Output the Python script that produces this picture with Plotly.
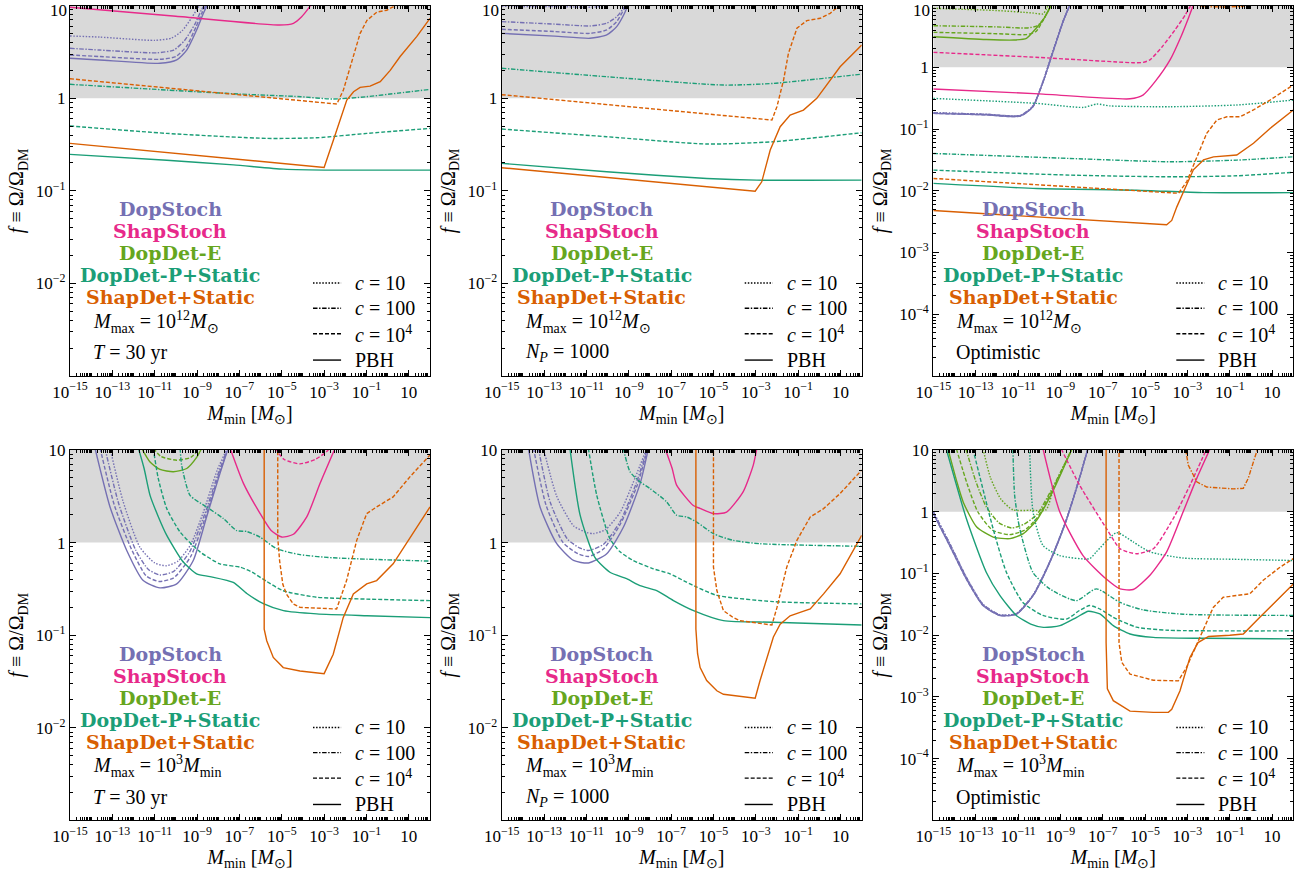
import plotly.graph_objects as go

# ------------------------------------------------------------------
# Curve data: pairs of (log10 M_min [M_sun], log10 f)
# ------------------------------------------------------------------
# Panel 1: M_max = 1e12 M_sun, T = 30 yr
P1_DOPSTOCH_PBH = [(-15, 0.431), (-13.6, 0.413), (-10.75, 0.377), (-9.96, 0.413), (-9.49, 0.52), (-9.02, 0.737), (-8.7, 0.917), (-8.46, 1.03)]
P1_DOPSTOCH_C1E4 = [(-15, 0.467), (-13.6, 0.45), (-10.75, 0.42), (-10.0, 0.45), (-9.5, 0.56), (-9.05, 0.77), (-8.75, 0.93), (-8.5, 1.03)]
P1_DOPSTOCH_C100 = [(-15, 0.539), (-13.6, 0.52), (-10.9, 0.49), (-10.1, 0.52), (-9.6, 0.62), (-9.1, 0.8), (-8.8, 0.95), (-8.55, 1.04)]
P1_DOPSTOCH_C10 = [(-15, 0.672), (-13.6, 0.66), (-11.0, 0.625), (-10.2, 0.65), (-9.7, 0.73), (-9.25, 0.87), (-8.9, 1.0), (-8.75, 1.05)]
P1_SHAPSTOCH_PBH = [(-15, 0.982), (-10, 0.885), (-5.1, 0.79), (-4.45, 0.809), (-4.06, 0.88), (-3.74, 0.97), (-3.5, 1.05)]
P1_DOPDETP_C100 = [(-15, 0.15), (-10.4, 0.088), (-7, 0.045), (-4.1, 0.016), (-2.6, -0.009), (-1, 0.016), (0.5, 0.055), (2, 0.095)]
P1_DOPDETP_C1E4 = [(-15, -0.30), (-10.43, -0.38), (-5.7, -0.434), (-3.35, -0.427), (-0.98, -0.38), (2, -0.326)]
P1_DOPDETP_PBH = [(-15, -0.607), (-10.43, -0.67), (-7.28, -0.72), (-4.92, -0.766), (-2.56, -0.777), (2, -0.777)]
P1_SHAPDET_C1E4 = [(-15, 0.21), (-2.4, -0.063), (-2.09, 0.088), (-1.77, 0.34), (-1.3, 0.70), (-0.98, 0.84), (-0.51, 0.93), (-0.04, 0.95), (0.28, 0.99), (0.51, 1.05)]
P1_SHAPDET_PBH = [(-15, -0.488), (-3.0, -0.748), (-2.56, -0.452), (-2.24, -0.236), (-1.93, -0.02), (-1.61, 0.07), (-1.3, 0.117), (-0.83, 0.13), (-0.35, 0.178), (0.12, 0.30), (0.59, 0.45), (1.38, 0.667), (2.0, 0.863)]

# Panel 2: M_max = 1e12 M_sun, N_P = 1000
P2_DOPSTOCH_C10 = [(-15, 0.992), (-12, 0.988), (-10.8, 0.983), (-10.2, 0.995), (-9.9, 1.03)]
P2_DOPSTOCH_C100 = [(-15, 0.827), (-12.5, 0.80), (-10.83, 0.78), (-10.04, 0.81), (-9.57, 0.88), (-9.25, 0.97), (-9.1, 1.03)]
P2_DOPSTOCH_C1E4 = [(-15, 0.744), (-12.5, 0.72), (-10.83, 0.70), (-10.04, 0.737), (-9.57, 0.827), (-9.2, 0.97), (-9.05, 1.03)]
P2_DOPSTOCH_PBH = [(-15, 0.70), (-12.5, 0.67), (-10.83, 0.647), (-10.04, 0.683), (-9.57, 0.773), (-9.2, 0.917), (-9.0, 1.03)]
P2_DOPDETP_C100 = [(-15, 0.323), (-10.04, 0.232), (-4.53, 0.142), (-2.17, 0.16), (2, 0.26)]
P2_DOPDETP_C1E4 = [(-15, -0.333), (-10.04, -0.416), (-5.31, -0.495), (-2.17, -0.47), (2, -0.373)]
P2_DOPDETP_PBH = [(-15, -0.704), (-10.04, -0.795), (-5.31, -0.867), (-2.95, -0.885), (2, -0.885)]
P2_SHAPDET_C1E4 = [(-15, 0.038), (-2.24, -0.236), (-2.0, -0.09), (-1.69, 0.196), (-1.46, 0.485), (-1.06, 0.755), (-0.59, 0.838), (0.04, 0.863), (0.51, 0.917), (0.98, 1.007), (1.1, 1.05)]
P2_SHAPDET_PBH = [(-15, -0.751), (-3.03, -1.004), (-2.72, -0.903), (-2.32, -0.56), (-1.85, -0.308), (-1.38, -0.182), (-0.75, -0.128), (-0.12, -0.002), (0.98, 0.34), (2.0, 0.575)]

# Panel 3: M_max = 1e12 M_sun, optimistic
P3_DOPDETE_C10 = [(-15, 0.956), (-12, 0.92), (-10.3, 0.88), (-9.82, 0.865), (-9.65, 0.95), (-9.55, 1.03)]
P3_DOPDETE_C100 = [(-15, 0.674), (-12, 0.655), (-10.6, 0.637), (-10.1, 0.67), (-9.8, 0.78), (-9.6, 0.9), (-9.45, 1.02)]
P3_DOPDETE_C1E4 = [(-15, 0.567), (-12, 0.545), (-10.6, 0.53), (-10.15, 0.58), (-9.85, 0.74), (-9.6, 0.9), (-9.45, 1.02)]
P3_DOPDETE_PBH = [(-15, 0.496), (-12.5, 0.45), (-11.2, 0.442), (-10.6, 0.47), (-10.29, 0.577), (-9.82, 0.767), (-9.43, 1.0), (-9.35, 1.05)]
P3_DOPSTOCH_PBH = [(-15, -0.746), (-12.5, -0.77), (-10.9, -0.79), (-10.3, -0.64), (-9.8, -0.22), (-9.33, 0.27), (-8.86, 0.75), (-8.5, 1.05)]
P3_DOPSTOCH_C10 = [(-15, -0.735), (-12.5, -0.76), (-10.9, -0.78), (-10.3, -0.63), (-9.8, -0.21), (-9.33, 0.28), (-8.86, 0.76), (-8.5, 1.05)]
P3_SHAPSTOCH_C1E4 = [(-15, 0.243), (-10, 0.16), (-5.57, 0.075), (-5.1, 0.08), (-4.77, 0.12), (-4.2, 0.33), (-3.6, 0.6), (-3.1, 0.85), (-2.8, 1.03)]
P3_SHAPSTOCH_PBH = [(-15, -0.35), (-10, -0.43), (-5.71, -0.51), (-5.1, -0.45), (-4.5, -0.22), (-3.82, 0.12), (-3.3, 0.5), (-2.95, 0.8), (-2.7, 1.03)]
P3_DOPDETP_C10 = [(-15, -0.503), (-10.12, -0.584), (-7.91, -0.649), (-7.28, -0.595), (-6.65, -0.625), (-3.82, -0.638), (-0.67, -0.61), (2.0, -0.53)]
P3_DOPDETP_C100 = [(-15, -1.395), (-8.54, -1.476), (-3.82, -1.53), (-0.67, -1.503), (2.0, -1.449)]
P3_DOPDETP_C1E4 = [(-15, -1.665), (-8.54, -1.746), (-3.82, -1.773), (-0.67, -1.757), (2.0, -1.70)]
P3_DOPDETP_PBH = [(-15, -1.88), (-10.12, -1.962), (-5.4, -1.99), (-2.24, -2.03), (2.0, -2.03)]
P3_SHAPDET_C100 = [(-2.6, 1.03), (-2.3, 0.985), (-1.3, 0.978), (-0.4, 0.985), (-0.15, 1.03)]
P3_SHAPDET_C1E4 = [(-15, -1.8), (-3.42, -2.04), (-3.03, -1.85), (-2.56, -1.45), (-2.09, -1.07), (-1.61, -0.854), (-1.14, -0.8), (-0.51, -0.8), (0.12, -0.69), (0.9, -0.53), (2.0, -0.286)]
P3_SHAPDET_PBH = [(-15, -2.32), (-3.98, -2.55), (-3.74, -2.48), (-3.5, -2.26), (-3.19, -2.02), (-2.72, -1.66), (-2.24, -1.5), (-1.77, -1.45), (-0.67, -1.42), (0.12, -1.23), (0.9, -0.99), (2.0, -0.69)]

# Panel 4: M_max = 1e3 M_min, T = 30 yr
P4_DOPSTOCH_PBH = [(-13.82, 1.02), (-13.11, 0.385), (-12.32, -0.085), (-11.54, -0.41), (-10.75, -0.489), (-9.96, -0.446), (-9.18, -0.193), (-8.55, 0.277), (-7.92, 0.747), (-7.53, 1.02)]
P4_DOPSTOCH_C1E4 = [(-13.58, 1.02), (-12.9, 0.4), (-12.1, -0.07), (-11.4, -0.36), (-10.8, -0.42), (-10.1, -0.38), (-9.3, -0.15), (-8.6, 0.28), (-7.95, 0.75), (-7.53, 1.02)]
P4_DOPSTOCH_C100 = [(-13.35, 1.02), (-12.7, 0.42), (-11.9, -0.08), (-11.3, -0.29), (-10.75, -0.35), (-10.1, -0.31), (-9.35, -0.1), (-8.65, 0.3), (-7.98, 0.76), (-7.55, 1.02)]
P4_DOPSTOCH_C10 = [(-13.11, 1.02), (-12.5, 0.45), (-11.7, -0.05), (-11.0, -0.22), (-10.45, -0.25), (-9.9, -0.2), (-9.3, -0.02), (-8.7, 0.33), (-8.05, 0.78), (-7.57, 1.02)]
P4_DOPDETE_PBH = [(-11.62, 1.02), (-11.22, 0.87), (-10.75, 0.79), (-10.12, 0.765), (-9.49, 0.80), (-9.02, 0.92), (-8.78, 1.02)]
P4_DOPDETE_C1E4 = [(-11.07, 1.02), (-10.7, 0.93), (-9.96, 0.89), (-9.3, 0.92), (-8.86, 1.02)]
P4_DOPDETP_PBH = [(-11.77, 1.02), (-11.5, 0.8), (-11.22, 0.51), (-10.83, 0.28), (-10.43, 0.078), (-9.65, -0.21), (-9.02, -0.337), (-8.39, -0.367), (-7.29, -0.43), (-6.65, -0.55), (-5.87, -0.66), (-4.92, -0.735), (-3.35, -0.77), (-0.98, -0.79), (2.0, -0.81)]
P4_DOPDETP_C1E4 = [(-11.07, 1.02), (-10.83, 0.69), (-10.43, 0.367), (-9.8, 0.114), (-8.86, -0.1), (-7.92, -0.23), (-6.97, -0.265), (-6.4, -0.32), (-5.71, -0.42), (-4.93, -0.52), (-3.35, -0.59), (-1.0, -0.61), (2.0, -0.627)]
P4_DOPDETP_C100 = [(-9.8, 1.02), (-9.73, 0.84), (-9.33, 0.51), (-8.55, 0.385), (-7.76, 0.26), (-7.13, 0.13), (-6.66, 0.12), (-6.03, 0.06), (-5.24, -0.066), (-4.14, -0.13), (-2.57, -0.164), (2.0, -0.2)]
P4_SHAPSTOCH_PBH = [(-7.44, 1.02), (-6.81, 0.64), (-6.02, 0.313), (-5.5, 0.13), (-5.0, 0.06), (-4.45, 0.09), (-3.82, 0.277), (-3.19, 0.64), (-2.48, 1.02)]
P4_SHAPSTOCH_C1E4 = [(-5.3, 1.02), (-4.9, 0.9), (-4.14, 0.85), (-3.4, 0.9), (-2.9, 0.98), (-2.72, 1.02)]
P4_SHAPDET_PBH = [(-5.83, 1.05), (-5.83, -0.934), (-5.71, -1.06), (-5.4, -1.24), (-4.93, -1.35), (-4.14, -1.386), (-3.0, -1.415), (-2.57, -1.205), (-2.1, -0.81), (-1.62, -0.554), (-0.99, -0.446), (-0.52, -0.41), (0.26, -0.229), (2.0, 0.385)]
P4_SHAPDET_C1E4 = [(-5.19, 1.05), (-5.19, 0.05), (-5.1, -0.2), (-4.95, -0.45), (-4.77, -0.56), (-4.45, -0.663), (-4.14, -0.7), (-2.41, -0.717), (-1.94, -0.41), (-1.46, 0.024), (-0.99, 0.313), (-0.52, 0.385), (0.26, 0.494), (1.05, 0.71), (2.0, 0.946)]

# Panel 5: M_max = 1e3 M_min, N_P = 1000
P5_DOPSTOCH_PBH = [(-13.74, 1.02), (-13.19, 0.385), (-12.4, -0.012), (-11.61, -0.193), (-10.9, -0.22), (-10.04, -0.12), (-9.25, 0.168), (-8.46, 0.64), (-8.07, 1.02)]
P5_DOPSTOCH_C1E4 = [(-13.5, 1.02), (-12.9, 0.4), (-12.1, 0.0), (-11.4, -0.12), (-10.9, -0.15), (-10.2, -0.07), (-9.4, 0.2), (-8.6, 0.62), (-8.1, 1.02)]
P5_DOPSTOCH_C100 = [(-13.27, 1.02), (-12.7, 0.43), (-11.9, 0.04), (-11.3, -0.06), (-10.9, -0.085), (-10.2, -0.02), (-9.4, 0.23), (-8.65, 0.64), (-8.12, 1.02)]
P5_DOPSTOCH_C10 = [(-13.03, 1.02), (-12.4, 0.5), (-11.6, 0.18), (-11.0, 0.11), (-10.67, 0.097), (-10.1, 0.14), (-9.4, 0.33), (-8.7, 0.7), (-8.15, 1.02)]
P5_DOPDETP_PBH = [(-11.78, 1.02), (-11.3, 0.3), (-10.6, -0.16), (-9.89, -0.32), (-9.1, -0.39), (-8.47, -0.464), (-7.68, -0.518), (-6.89, -0.626), (-5.94, -0.735), (-4.53, -0.843), (-2.17, -0.86), (2.0, -0.89)]
P5_DOPDETP_C1E4 = [(-10.91, 1.02), (-10.51, 0.51), (-9.89, 0.042), (-9.41, -0.1), (-8.79, -0.193), (-7.84, -0.283), (-7.05, -0.337), (-6.27, -0.428), (-5.79, -0.48), (-4.84, -0.57), (-2.17, -0.637), (2.0, -0.662)]
P5_DOPDETP_C100 = [(-9.26, 1.02), (-8.94, 0.765), (-8.47, 0.656), (-8.0, 0.584), (-7.21, 0.44), (-6.74, 0.295), (-6.27, 0.277), (-5.79, 0.222), (-5.0, 0.096), (-4.06, 0.024), (-2.8, -0.012), (2.0, -0.04)]
P5_SHAPSTOCH_PBH = [(-7.29, 1.02), (-6.95, 0.8), (-6.74, 0.62), (-5.95, 0.40), (-5.64, 0.37), (-5.0, 0.313), (-4.38, 0.33), (-3.6, 0.548), (-3.12, 0.837), (-2.95, 1.02)]
P5_SHAPDET_PBH = [(-5.83, 1.05), (-5.83, -0.934), (-5.75, -1.2), (-5.63, -1.35), (-5.32, -1.49), (-4.84, -1.6), (-4.53, -1.638), (-3.03, -1.68), (-2.8, -1.49), (-2.48, -1.24), (-2.17, -1.02), (-1.85, -0.88), (-1.38, -0.79), (-0.91, -0.753), (-0.43, -0.717), (0.2, -0.554), (0.98, -0.337), (2.0, 0.078)]
P5_SHAPDET_C1E4 = [(-5.0, 1.05), (-5.0, -0.265), (-4.84, -0.518), (-4.53, -0.735), (-4.06, -0.81), (-3.74, -0.843), (-2.24, -0.89), (-2.0, -0.7), (-1.54, -0.265), (-1.06, 0.024), (-0.43, 0.277), (0.2, 0.367), (0.98, 0.53), (2.0, 0.783)]

# Panel 6: M_max = 1e3 M_min, optimistic
P6_DOPSTOCH_PBH = [(-15, -0.03), (-14.23, -0.545), (-13.44, -1.09), (-12.65, -1.52), (-11.85, -1.68), (-11.08, -1.66), (-10.29, -1.36), (-9.5, -0.82), (-8.75, -0.17), (-8.15, 0.48), (-7.7, 1.02)]
P6_DOPSTOCH_C10 = [(-15, 0.0), (-14.23, -0.51), (-13.44, -1.06), (-12.65, -1.5), (-11.85, -1.67), (-11.08, -1.65), (-10.29, -1.35), (-9.5, -0.81), (-8.75, -0.16), (-8.15, 0.49), (-7.7, 1.02)]
P6_DOPDETE_PBH = [(-14.31, 1.02), (-13.9, 0.5), (-13.58, 0.15), (-12.95, -0.247), (-12.17, -0.41), (-11.38, -0.436), (-10.75, -0.355), (-10.12, -0.138), (-9.33, 0.35), (-8.45, 1.02)]
P6_DOPDETE_C1E4 = [(-13.91, 1.02), (-13.4, 0.45), (-12.9, 0.0), (-12.2, -0.3), (-11.4, -0.371), (-10.7, -0.3), (-10.1, -0.1), (-9.35, 0.37), (-8.45, 1.02)]
P6_DOPDETE_C100 = [(-13.46, 1.02), (-13.0, 0.5), (-12.5, 0.08), (-11.9, -0.18), (-11.3, -0.263), (-10.7, -0.2), (-10.1, -0.04), (-9.35, 0.4), (-8.45, 1.02)]
P6_DOPDETE_C10 = [(-12.65, 1.02), (-12.3, 0.55), (-11.8, 0.2), (-11.24, 0.03), (-10.4, 0.024), (-9.68, 0.03), (-9.3, 0.4), (-8.45, 1.02)]
P6_DOPDETP_PBH = [(-14.39, 1.02), (-13.44, -0.11), (-12.5, -0.98), (-11.85, -1.36), (-11.08, -1.68), (-10.4, -1.82), (-9.8, -1.873), (-9.02, -1.846), (-8.23, -1.71), (-7.68, -1.612), (-7.13, -1.656), (-6.5, -1.846), (-5.71, -1.98), (-4.61, -2.035), (-2.24, -2.05), (2.0, -2.06)]
P6_DOPDETP_C1E4 = [(-13.13, 1.02), (-12.18, -0.27), (-11.55, -0.98), (-10.77, -1.47), (-9.82, -1.68), (-8.72, -1.74), (-8.1, -1.6), (-7.62, -1.52), (-7.1, -1.58), (-6.5, -1.71), (-5.4, -1.87), (-3.9, -1.92), (2.0, -1.93)]
P6_DOPDETP_C100 = [(-11.24, 1.02), (-11.16, 0.268), (-10.92, -0.27), (-10.3, -0.98), (-9.5, -1.25), (-8.25, -1.44), (-7.3, -1.25), (-6.18, -1.47), (-5.09, -1.59), (-3.2, -1.66), (2.0, -1.68)]
P6_DOPDETP_C10 = [(-10.45, 1.02), (-10.29, -0.003), (-9.82, -0.545), (-9.03, -0.71), (-7.62, -0.76), (-7.3, -0.65), (-6.34, -0.34), (-5.56, -0.49), (-4.77, -0.65), (-3.2, -0.75), (-0.84, -0.77), (2.0, -0.79)]
P6_SHAPSTOCH_PBH = [(-9.82, 1.02), (-9.03, 0.0), (-7.93, -0.71), (-6.83, -1.09), (-6.18, -1.25), (-5.56, -1.26), (-4.77, -1.03), (-3.98, -0.65), (-3.2, 0.0), (-2.56, 0.54), (-1.93, 1.02)]
P6_SHAPSTOCH_C1E4 = [(-8.96, 1.02), (-8.09, 0.43), (-6.83, -0.27), (-6.18, -0.6), (-5.4, -0.68), (-4.61, -0.6), (-3.67, -0.11), (-2.88, 0.43), (-2.09, 1.02)]
P6_SHAPDET_PBH = [(-6.84, 1.05), (-6.84, -2.12), (-6.78, -2.87), (-6.5, -3.06), (-5.71, -3.23), (-4.61, -3.25), (-3.9, -3.25), (-3.74, -3.2), (-3.35, -2.9), (-2.88, -2.36), (-2.5, -2.12), (-2.0, -2.02), (-1.0, -2.0), (-0.36, -1.98), (0.42, -1.71), (1.21, -1.44), (2.0, -1.17)]
P6_SHAPDET_C1E4 = [(-6.23, 1.05), (-6.23, -2.12), (-6.1, -2.44), (-5.71, -2.63), (-4.61, -2.73), (-3.43, -2.74), (-3.04, -2.52), (-2.41, -2.04), (-1.78, -1.55), (-1.31, -1.385), (-0.68, -1.36), (-0.05, -1.33), (0.58, -1.11), (1.37, -0.9), (2.0, -0.76)]
P6_SHAPDET_C100 = [(-3.1, 1.05), (-2.96, 0.756), (-2.56, 0.485), (-2.09, 0.40), (-0.84, 0.37), (-0.36, 0.38), (-0.13, 0.54), (0.11, 0.81), (0.34, 1.05)]

# ------------------------------------------------------------------
# Which curve goes where
# ------------------------------------------------------------------
CURVES = [
    (1, 'DopStoch', 'c10', P1_DOPSTOCH_C10), (1, 'DopStoch', 'c100', P1_DOPSTOCH_C100),
    (1, 'DopStoch', 'c1e4', P1_DOPSTOCH_C1E4), (1, 'DopStoch', 'pbh', P1_DOPSTOCH_PBH),
    (1, 'ShapStoch', 'pbh', P1_SHAPSTOCH_PBH),
    (1, 'DopDetP', 'c100', P1_DOPDETP_C100), (1, 'DopDetP', 'c1e4', P1_DOPDETP_C1E4), (1, 'DopDetP', 'pbh', P1_DOPDETP_PBH),
    (1, 'ShapDet', 'c1e4', P1_SHAPDET_C1E4), (1, 'ShapDet', 'pbh', P1_SHAPDET_PBH),

    (2, 'DopStoch', 'c10', P2_DOPSTOCH_C10), (2, 'DopStoch', 'c100', P2_DOPSTOCH_C100),
    (2, 'DopStoch', 'c1e4', P2_DOPSTOCH_C1E4), (2, 'DopStoch', 'pbh', P2_DOPSTOCH_PBH),
    (2, 'DopDetP', 'c100', P2_DOPDETP_C100), (2, 'DopDetP', 'c1e4', P2_DOPDETP_C1E4), (2, 'DopDetP', 'pbh', P2_DOPDETP_PBH),
    (2, 'ShapDet', 'c1e4', P2_SHAPDET_C1E4), (2, 'ShapDet', 'pbh', P2_SHAPDET_PBH),

    (3, 'DopDetE', 'c10', P3_DOPDETE_C10), (3, 'DopDetE', 'c100', P3_DOPDETE_C100),
    (3, 'DopDetE', 'c1e4', P3_DOPDETE_C1E4), (3, 'DopDetE', 'pbh', P3_DOPDETE_PBH),
    (3, 'DopStoch', 'c10', P3_DOPSTOCH_C10), (3, 'DopStoch', 'c100', P3_DOPSTOCH_C10),
    (3, 'DopStoch', 'c1e4', P3_DOPSTOCH_PBH), (3, 'DopStoch', 'pbh', P3_DOPSTOCH_PBH),
    (3, 'ShapStoch', 'c1e4', P3_SHAPSTOCH_C1E4), (3, 'ShapStoch', 'pbh', P3_SHAPSTOCH_PBH),
    (3, 'DopDetP', 'c10', P3_DOPDETP_C10), (3, 'DopDetP', 'c100', P3_DOPDETP_C100),
    (3, 'DopDetP', 'c1e4', P3_DOPDETP_C1E4), (3, 'DopDetP', 'pbh', P3_DOPDETP_PBH),
    (3, 'ShapDet', 'c100', P3_SHAPDET_C100), (3, 'ShapDet', 'c1e4', P3_SHAPDET_C1E4), (3, 'ShapDet', 'pbh', P3_SHAPDET_PBH),

    (4, 'DopStoch', 'c10', P4_DOPSTOCH_C10), (4, 'DopStoch', 'c100', P4_DOPSTOCH_C100),
    (4, 'DopStoch', 'c1e4', P4_DOPSTOCH_C1E4), (4, 'DopStoch', 'pbh', P4_DOPSTOCH_PBH),
    (4, 'DopDetE', 'c1e4', P4_DOPDETE_C1E4), (4, 'DopDetE', 'pbh', P4_DOPDETE_PBH),
    (4, 'DopDetP', 'c100', P4_DOPDETP_C100), (4, 'DopDetP', 'c1e4', P4_DOPDETP_C1E4), (4, 'DopDetP', 'pbh', P4_DOPDETP_PBH),
    (4, 'ShapStoch', 'c1e4', P4_SHAPSTOCH_C1E4), (4, 'ShapStoch', 'pbh', P4_SHAPSTOCH_PBH),
    (4, 'ShapDet', 'c1e4', P4_SHAPDET_C1E4), (4, 'ShapDet', 'pbh', P4_SHAPDET_PBH),

    (5, 'DopStoch', 'c10', P5_DOPSTOCH_C10), (5, 'DopStoch', 'c100', P5_DOPSTOCH_C100),
    (5, 'DopStoch', 'c1e4', P5_DOPSTOCH_C1E4), (5, 'DopStoch', 'pbh', P5_DOPSTOCH_PBH),
    (5, 'DopDetP', 'c100', P5_DOPDETP_C100), (5, 'DopDetP', 'c1e4', P5_DOPDETP_C1E4), (5, 'DopDetP', 'pbh', P5_DOPDETP_PBH),
    (5, 'ShapStoch', 'pbh', P5_SHAPSTOCH_PBH),
    (5, 'ShapDet', 'c1e4', P5_SHAPDET_C1E4), (5, 'ShapDet', 'pbh', P5_SHAPDET_PBH),

    (6, 'DopStoch', 'c10', P6_DOPSTOCH_C10), (6, 'DopStoch', 'c100', P6_DOPSTOCH_C10),
    (6, 'DopStoch', 'c1e4', P6_DOPSTOCH_PBH), (6, 'DopStoch', 'pbh', P6_DOPSTOCH_PBH),
    (6, 'DopDetE', 'c10', P6_DOPDETE_C10), (6, 'DopDetE', 'c100', P6_DOPDETE_C100),
    (6, 'DopDetE', 'c1e4', P6_DOPDETE_C1E4), (6, 'DopDetE', 'pbh', P6_DOPDETE_PBH),
    (6, 'DopDetP', 'c10', P6_DOPDETP_C10), (6, 'DopDetP', 'c100', P6_DOPDETP_C100),
    (6, 'DopDetP', 'c1e4', P6_DOPDETP_C1E4), (6, 'DopDetP', 'pbh', P6_DOPDETP_PBH),
    (6, 'ShapStoch', 'c1e4', P6_SHAPSTOCH_C1E4), (6, 'ShapStoch', 'pbh', P6_SHAPSTOCH_PBH),
    (6, 'ShapDet', 'c100', P6_SHAPDET_C100), (6, 'ShapDet', 'c1e4', P6_SHAPDET_C1E4), (6, 'ShapDet', 'pbh', P6_SHAPDET_PBH),
]

FAMILY_COLORS = {
    'DopStoch': '#7570b3',
    'ShapStoch': '#e7298a',
    'DopDetE': '#66a61e',
    'DopDetP': '#1b9e77',
    'ShapDet': '#d95f02',
}
FAMILY_LABELS = [
    ('DopStoch', 'DopStoch'),
    ('ShapStoch', 'ShapStoch'),
    ('DopDetE', 'DopDet-E'),
    ('DopDetP', 'DopDet-P+Static'),
    ('ShapDet', 'ShapDet+Static'),
]
STYLE_DASH = {
    'c10': '1.5px,1.6px',
    'c100': '4.5px,1.6px,1.4px,1.6px',
    'c1e4': '4px,2px',
    'pbh': 'solid',
}
STYLE_LABELS = [
    ('c10', '<i>c</i> = 10'),
    ('c100', '<i>c</i> = 100'),
    ('c1e4', '<i>c</i> = 10<sup>4</sup>'),
    ('pbh', 'PBH'),
]
PANEL_NOTES = {
    1: ('<i>M</i><sub>max</sub> = 10<sup>12</sup><i>M</i><sub>⊙</sub>', '<i>T</i> = 30 yr'),
    2: ('<i>M</i><sub>max</sub> = 10<sup>12</sup><i>M</i><sub>⊙</sub>', '<i>N<sub>P</sub></i> = 1000'),
    3: ('<i>M</i><sub>max</sub> = 10<sup>12</sup><i>M</i><sub>⊙</sub>', 'Optimistic'),
    4: ('<i>M</i><sub>max</sub> = 10<sup>3</sup><i>M</i><sub>min</sub>', '<i>T</i> = 30 yr'),
    5: ('<i>M</i><sub>max</sub> = 10<sup>3</sup><i>M</i><sub>min</sub>', '<i>N<sub>P</sub></i> = 1000'),
    6: ('<i>M</i><sub>max</sub> = 10<sup>3</sup><i>M</i><sub>min</sub>', 'Optimistic'),
}
# log10 of the lower f limit in each panel
PANEL_FMIN_EXP = {1: -3, 2: -3, 3: -5, 4: -3, 5: -3, 6: -5}
M_RANGE_EXP = (-15, 2)
EXCLUDED_F = (1, 10)   # f > 1 is shaded

# ------------------------------------------------------------------
# Layout geometry (pixels in a 1304 x 873 page)
# ------------------------------------------------------------------
W, H = 1304, 873
COL_LEFT = [70, 501.7, 933.3]
COL_WIDTH = 360
ROW_TOP = [5.6, 450]
ROW_HEIGHT = 370.4

SERIF = 'Liberation Serif'
BOLD_SERIF = 'DejaVu Serif'
TICK_FONT = dict(family=SERIF, size=17, color='black')


def pow10_label(e):
    if e == 0:
        return '1'
    if e == 1:
        return '10'
    return '10<sup>−%d</sup>' % (-e) if e < 0 else '10<sup>%d</sup>' % e


def sub_decade_vals(e0, e1):
    return [k * 10.0 ** e for e in range(e0, e1) for k in range(2, 10)]


fig = go.Figure()
layout = dict(
    width=W, height=H,
    margin=dict(l=0, r=0, t=0, b=0),
    paper_bgcolor='white', plot_bgcolor='white',
    showlegend=False,
    font=dict(family=SERIF, color='black'),
)

annotations = []
shapes = []

# labelled decades on the mass axis; the others get short ticks only
X_LABELLED = [e for e in range(M_RANGE_EXP[0], M_RANGE_EXP[1]) if e % 2 == 1 or e == 1]
X_UNLABELLED = [e for e in range(M_RANGE_EXP[0], M_RANGE_EXP[1] + 1) if e not in X_LABELLED]

for k in range(1, 7):
    row, col = (0 if k <= 3 else 1), (k - 1) % 3
    xs = '' if k == 1 else str(k)
    xa, ya = 'x' + xs, 'y' + xs
    fmin = PANEL_FMIN_EXP[k]

    x0 = COL_LEFT[col] / W
    x1 = (COL_LEFT[col] + COL_WIDTH) / W
    y1 = 1 - ROW_TOP[row] / H
    y0 = 1 - (ROW_TOP[row] + ROW_HEIGHT) / H

    axis_common = dict(
        type='log', showgrid=False, zeroline=False,
        showline=True, linecolor='black', linewidth=1.2, mirror='allticks',
        ticks='inside', ticklen=6, tickwidth=1, tickcolor='black',
        tickfont=TICK_FONT, automargin=False, tickmode='array',
    )

    layout['xaxis' + xs] = dict(
        axis_common,
        domain=[x0, x1], anchor=ya,
        range=list(M_RANGE_EXP),
        tickvals=[10.0 ** e for e in X_LABELLED], ticktext=[pow10_label(e) for e in X_LABELLED],
        minor=dict(ticks='inside', ticklen=3, tickwidth=0.8, tickcolor='black', tickmode='array',
                   tickvals=sub_decade_vals(M_RANGE_EXP[0], M_RANGE_EXP[1]) + [10.0 ** e for e in X_UNLABELLED],
                   showgrid=False),
        title=dict(text='<i>M</i><sub>min</sub> [<i>M</i><sub>⊙</sub>]',
                   font=dict(family=SERIF, size=20, color='black'), standoff=4),
    )

    # in the top row the "10" label sits at the page edge; it is placed as a
    # separate annotation nudged just inside the page
    top_row = row == 0
    y_lab = list(range(fmin + 1, 1 if top_row else 2))
    y_tick = list(range(fmin + 1, 2))
    layout['yaxis' + xs] = dict(
        axis_common,
        domain=[y0, y1], anchor=xa,
        range=[fmin, 1],
        tickvals=[10.0 ** e for e in y_lab], ticktext=[pow10_label(e) for e in y_lab],
        minor=dict(ticks='inside', ticklen=3, tickwidth=0.8, tickcolor='black', tickmode='array',
                   tickvals=sub_decade_vals(fmin, 1) + ([10.0] if top_row else []), showgrid=False),
        title=dict(text='<i>f</i> ≡ Ω/Ω<sub>DM</sub>',
                   font=dict(family=SERIF, size=20, color='black'), standoff=6),
    )
    if top_row:
        annotations.append(dict(
            xref='paper', yref='paper', x=(COL_LEFT[col] - 2) / W, y=1.0,
            xanchor='right', yanchor='top', showarrow=False, borderpad=0,
            text=pow10_label(1), font=TICK_FONT,
        ))

    # shaded region f > 1
    mlo, mhi = 10.0 ** M_RANGE_EXP[0], 10.0 ** M_RANGE_EXP[1]
    fig.add_trace(go.Scatter(
        x=[mlo, mhi, mhi, mlo], y=[EXCLUDED_F[0], EXCLUDED_F[0], EXCLUDED_F[1], EXCLUDED_F[1]],
        fill='toself', fillcolor='#d9d9d9', mode='lines', line=dict(width=0),
        hoverinfo='skip', xaxis=xa, yaxis=ya,
    ))

    # constraint curves
    for panel, fam, style, pts in CURVES:
        if panel != k:
            continue
        smooth = fam != 'ShapDet'
        line = dict(color=FAMILY_COLORS[fam], width=1.4, dash=STYLE_DASH[style],
                    shape='spline' if smooth else 'linear')
        if smooth:
            line['smoothing'] = 0.6
        fig.add_trace(go.Scatter(
            x=[10.0 ** m for m, _ in pts],
            y=[10.0 ** f for _, f in pts],
            mode='lines', line=line,
            hoverinfo='skip', xaxis=xa, yaxis=ya,
        ))

    dx, dy = xa + ' domain', ya + ' domain'

    # coloured family labels
    for i, (fam, label) in enumerate(FAMILY_LABELS):
        annotations.append(dict(
            xref=dx, yref=dy, x=0.278, y=0.450 - i * 0.0595,
            xanchor='center', yanchor='middle', showarrow=False,
            text='<b>%s</b>' % label,
            font=dict(family=BOLD_SERIF, size=19, color=FAMILY_COLORS[fam]),
        ))

    # panel notes
    note1, note2 = PANEL_NOTES[k]
    annotations.append(dict(xref=dx, yref=dy, x=0.058, y=0.147, xanchor='left', yanchor='middle',
                            showarrow=False, text=note1, font=dict(family=SERIF, size=20, color='black')))
    annotations.append(dict(xref=dx, yref=dy, x=0.058, y=0.063, xanchor='left', yanchor='middle',
                            showarrow=False, text=note2, font=dict(family=SERIF, size=20, color='black')))

    # line-style key
    for j, (style, label) in enumerate(STYLE_LABELS):
        yy = [0.251, 0.183, 0.114, 0.043][j]
        shapes.append(dict(type='line', xref=dx, yref=dy, x0=0.675, x1=0.753, y0=yy, y1=yy,
                           line=dict(color='black', width=1.4, dash=STYLE_DASH[style])))
        annotations.append(dict(xref=dx, yref=dy, x=0.786, y=yy, xanchor='left', yanchor='middle',
                                showarrow=False, text=label, font=dict(family=SERIF, size=20, color='black')))

layout['annotations'] = annotations
layout['shapes'] = shapes
fig.update_layout(**layout)
fig.write_html('out.html')
